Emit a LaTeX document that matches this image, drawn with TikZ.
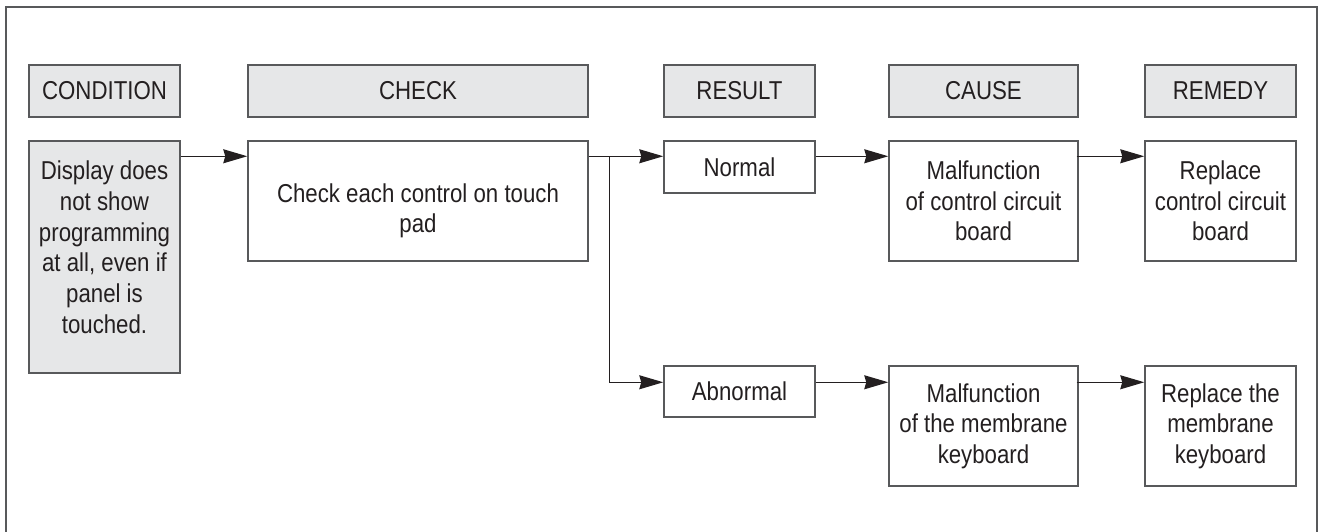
\documentclass[tikz,border=0pt]{standalone}
\usepackage{fontspec}
\setmainfont[FakeStretch=0.86]{Liberation Sans}
\usepackage{tikz}
\usetikzlibrary{arrows.meta,calc,positioning}
\definecolor{kopfgrau}{HTML}{E6E7E8}
\definecolor{rahmen}{HTML}{58595B}
\definecolor{schrift}{HTML}{231F20}

\begin{document}
\begin{tikzpicture}[x=0.75pt,y=-0.75pt,
  font=\fontsize{19.4}{23}\selectfont,
  kasten/.style 2 args={draw=rahmen,line width=1.1pt,align=center,inner sep=0pt,text=schrift,
    minimum width=#1*0.75pt,minimum height=#2*0.75pt},
  kopf/.style 2 args={kasten={#1}{#2},fill=kopfgrau},
  pfeil/.style={draw=schrift,line width=0.9pt,-{Stealth[length=18pt,width=10.5pt,inset=1.5pt]}}]
\useasboundingbox (0,0) rectangle (1322,532);
%Rahmen, unten abgeschnitten
\draw[rahmen,line width=1.4pt] (6,7) rectangle (1317,560);
%Spaltenkoepfe
\node[kopf={151}{52}] (kcond) at (104.5,91) {CONDITION};
\node[kopf={340}{52}] (kcheck) at (418,91) {CHECK};
\node[kopf={151}{52}] (kresult) at (739.5,91) {RESULT};
\node[kopf={189}{52}] (kcause) at (983.5,91) {CAUSE};
\node[kopf={151}{52}] (kremedy) at (1220.5,91) {REMEDY};
%Kaesten (\rule verschiebt den Text etwas nach oben bzw. unten)
\node[kopf={151}{232}] (cond) at (104.5,257) {Display does\\not show\\programming\\at all, even if\\panel is\\touched.\rule[-15pt]{0pt}{15pt}};
\node[kasten={340}{120}] (check) at (418,201) {\rule{0pt}{29pt}Check each control on touch\\pad};
\node[kasten={151}{52}] (normal) at (739.5,167) {Normal};
\node[kasten={151}{51}] (abnormal) at (739.5,391.5) {Abnormal};
\node[kasten={189}{120}] (cause1) at (983.5,201) {Malfunction\\of control circuit\\board};
\node[kasten={189}{120}] (cause2) at (983.5,426) {Malfunction\\of the membrane\\keyboard};
\node[kasten={151}{120}] (remedy1) at (1220.5,201) {Replace\\control circuit\\board};
\node[kasten={151}{120}] (remedy2) at (1220.5,426) {Replace the\\membrane\\keyboard};
%Verbindungen, jeweils 16px unter der Oberkante
\coordinate (abzweig) at ($(check.north east)+(21,16)$);
\draw[pfeil] ($(cond.north east)+(0,16)$) -- ($(check.north west)+(0,16)$);
\draw[pfeil] ($(check.north east)+(0,16)$) -- ($(normal.north west)+(0,16)$);
\draw[pfeil] (abzweig) |- ($(abnormal.north west)+(0,17)$);
\draw[pfeil] ($(normal.north east)+(0,16)$) -- ($(cause1.north west)+(0,16)$);
\draw[pfeil] ($(abnormal.north east)+(0,17)$) -- ($(cause2.north west)+(0,17)$);
\draw[pfeil] ($(cause1.north east)+(-2,16)$) -- ($(remedy1.north west)+(0,16)$);
\draw[pfeil] ($(cause2.north east)+(-2,17)$) -- ($(remedy2.north west)+(0,17)$);
\end{tikzpicture}
\end{document}
